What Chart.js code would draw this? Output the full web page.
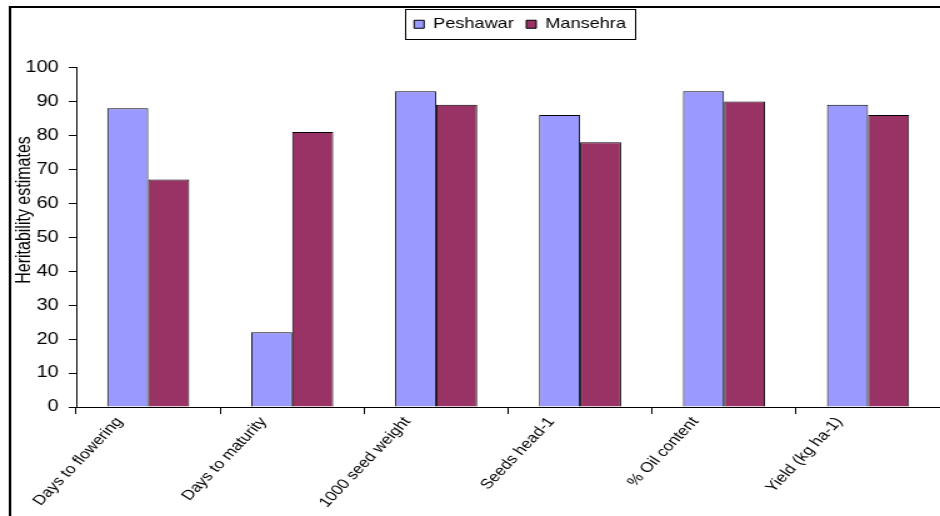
<!DOCTYPE html>
<html>
<head>
<meta charset="utf-8">
<script src="https://cdn.jsdelivr.net/npm/chart.js@4.4.1/dist/chart.umd.min.js"></script>
<style>
  body { margin: 0; background: #fff; }
</style>
</head>
<body>
<!-- the source picture is stretched sideways, so the canvas is too -->
<canvas id="chart" width="752" height="516" style="width:940px;height:516px"></canvas>
<script>
var categories = ['Days to flowering', 'Days to maturity', '1000 seed weight', 'Seeds head-1', '% Oil content', 'Yield (kg ha-1)'];
var peshawar = [88, 22, 93, 86, 93, 89];
var mansehra = [67, 81, 89, 78, 90, 86];
var yMin = 0;
var yMax = 100;
var yStep = 10;
var yTitle = 'Heritability estimates';

var font = "'Liberation Sans', Arial, sans-serif";

// outer frame, legend box and the y title
var extras = {
  id: 'extras',
  afterLayout: function (chart) {
    // legend sits right of centre in the original
    chart.legend.left += 40;
    chart.legend.right += 40;
  },
  afterDraw: function (chart) {
    var ctx = chart.ctx;
    ctx.save();
    ctx.strokeStyle = '#000';
    ctx.lineWidth = 2;
    ctx.beginPath();
    ctx.moveTo(8, 516);
    ctx.lineTo(8, 7);
    ctx.lineTo(chart.width, 7);
    ctx.stroke();

    var boxes = chart.legend.legendHitBoxes;
    if (boxes && boxes.length) {
      var first = boxes[0], last = boxes[boxes.length - 1];
      var cy = first.top + first.height / 2;
      var x0 = first.left - 7, x1 = last.left + last.width + 8;
      var y0 = cy - 15, y1 = cy + 15;
      ctx.lineWidth = 1;
      ctx.strokeRect(Math.round(x0) + 0.5, Math.round(y0) + 0.5, Math.round(x1 - x0), Math.round(y1 - y0));
    }

    ctx.fillStyle = '#000';
    ctx.font = '16px ' + font;
    ctx.textAlign = 'center';
    ctx.textBaseline = 'middle';
    ctx.translate(19.6, 210);
    ctx.rotate(-Math.PI / 2);
    ctx.fillText(yTitle, 0, 0);
    ctx.restore();
  }
};

new Chart(document.getElementById('chart'), {
  type: 'bar',
  data: {
    labels: categories,
    datasets: [
      {
        label: 'Peshawar',
        data: peshawar,
        backgroundColor: '#9999FF',
        borderColor: '#000',
        borderWidth: 1,
        barPercentage: 1,
        categoryPercentage: 0.57
      },
      {
        label: 'Mansehra',
        data: mansehra,
        backgroundColor: '#993366',
        borderColor: '#000',
        borderWidth: 1,
        barPercentage: 1,
        categoryPercentage: 0.57
      }
    ]
  },
  options: {
    responsive: false,
    animation: false,
    layout: { padding: { top: 7, left: 0, right: 0, bottom: 0 } },
    plugins: {
      tooltip: { enabled: false },
      legend: {
        position: 'top',
        labels: {
          boxWidth: 8,
          boxHeight: 8,
          padding: 10,
          color: '#000',
          font: { family: font, size: 14.5 }
        }
      },
      // empty title used as a spacer between legend and plot
      title: {
        display: true,
        text: '',
        weight: 500,
        font: { size: 1 },
        padding: { top: 0, bottom: 24.8 }
      }
    },
    scales: {
      x: {
        border: { color: '#000', width: 1 },
        grid: { display: true, offset: true, drawOnChartArea: false, drawTicks: true, tickLength: 7, color: '#000' },
        ticks: {
          color: '#000',
          font: { family: font, size: 14 },
          minRotation: 52,
          maxRotation: 52,
          autoSkip: false,
          labelOffset: -23,
          padding: 0
        },
        afterFit: function (s) { s.height = 109; s.paddingLeft = 0; s.paddingRight = 0; }
      },
      y: {
        min: yMin,
        max: yMax,
        border: { color: '#000', width: 1 },
        grid: { display: true, drawOnChartArea: false, drawTicks: true, tickLength: 6, color: '#000' },
        ticks: {
          stepSize: yStep,
          color: '#000',
          padding: 8,
          font: { family: font, size: 16 }
        },
        afterFit: function (s) { s.width = 61; }
      }
    }
  },
  plugins: [extras]
});
</script>
</body>
</html>
